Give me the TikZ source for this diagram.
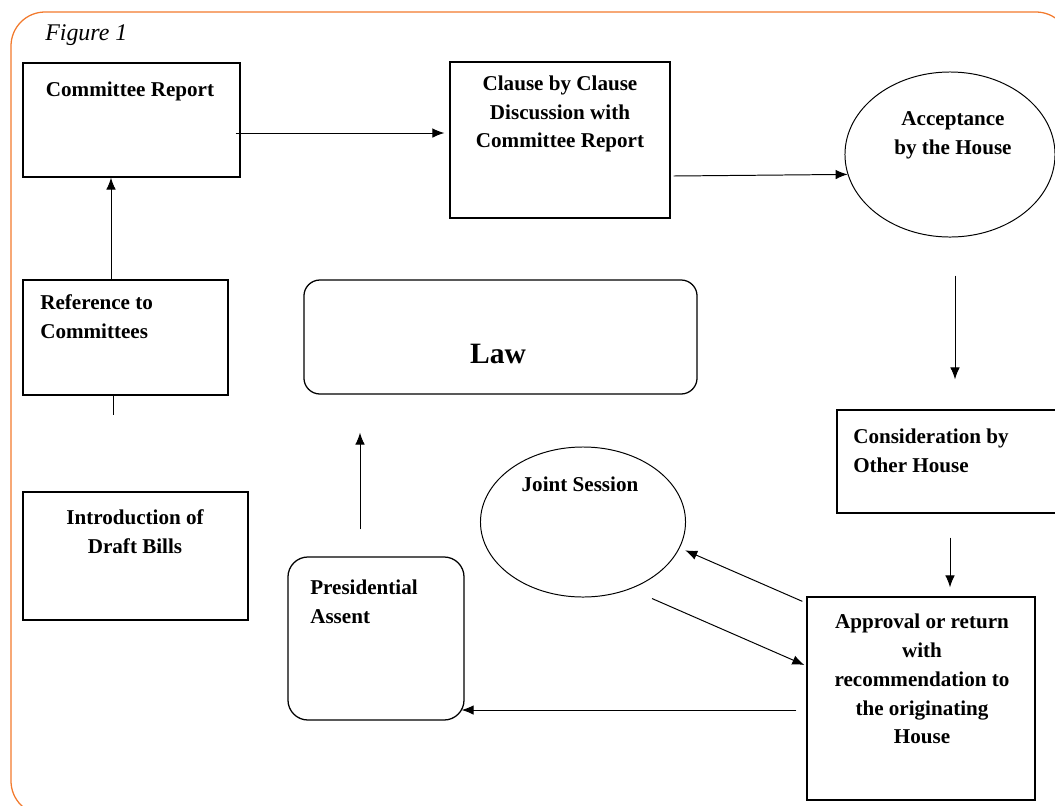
\documentclass[tikz,border=0pt]{standalone}
\usepackage{fontspec}
\setmainfont{Liberation Serif}
\usetikzlibrary{shapes.geometric,arrows.meta,calc}
\definecolor{frameorange}{RGB}{242,122,45}

\begin{document}
\begin{tikzpicture}[x=0.025cm,y=-0.025cm,>={Latex[length=3mm,width=2.4mm]},
  box/.style={draw,line width=0.9pt,inner sep=0pt},
  oval/.style={draw,ellipse,line width=0.7pt,inner sep=0pt},
  lbl/.style={font=\bfseries\fontsize{15}{20.5}\selectfont,align=center,inner sep=0pt},
  flow/.style={->,line width=0.7pt}]
	\useasboundingbox (0,0) rectangle (1055,805);
	\draw[frameorange,line width=0.9pt,rounded corners=0.85cm] (11,12) rectangle (1070,815);

	\node[font=\itshape\fontsize{17}{20}\selectfont,anchor=west,inner sep=0pt] (fig) at (45,35) {Figure 1};

            % boxes
            \node[box,minimum width=5.425cm,minimum height=2.85cm] (report) at (131.5,120) {};
            \node[box,minimum width=5.5cm,minimum height=3.9cm] (clause) at (560,140) {};
            \node[oval,minimum width=5.25cm,minimum height=4.125cm] (accept) at (950,154.5) {};
            \node[box,minimum width=5.7cm,minimum height=2.575cm] (consider) at (951,461.5) {};
            \node[box,minimum width=5.7cm,minimum height=5.075cm] (approval) at (921,698.5) {};
            \node[oval,minimum width=5.125cm,minimum height=3.75cm] (joint) at (583,522) {};
            \node[box,rounded corners=0.5cm,minimum width=4.4cm,minimum height=4.075cm] (pres) at (376,638.5) {};
            \node[box,rounded corners=0.4cm,minimum width=9.825cm,minimum height=2.85cm] (law) at (500.5,337) {};
            \node[box,minimum width=5.125cm,minimum height=2.875cm] (ref) at (125.5,337.5) {};
            \node[box,minimum width=5.625cm,minimum height=3.2cm] (intro) at (135.5,556) {};

            % texts
            \node[lbl] (reporttxt) at (130,91) {Committee Report};
            \node[lbl] (clausetxt) at (560,114) {Clause by Clause\\Discussion with\\Committee Report};
            \node[lbl] (accepttxt) at (953,135) {Acceptance\\by the House};
            \node[lbl,align=left,anchor=west] (considertxt) at (853,451) {Consideration by\\Other House};
            \node[lbl] (approvaltxt) at (922,679) {Approval or return\\with\\recommendation to\\the originating\\House};
            \node[lbl] (jointtxt) at (580,484) {Joint Session};
            \node[lbl,align=left,anchor=west] (prestxt) at (310,602) {Presidential\\Assent};
            \node[lbl,font=\bfseries\fontsize{21}{24}\selectfont] (lawtxt) at (498,354) {Law};
            \node[lbl,align=left,anchor=west] (reftxt) at (40,317) {Reference to\\Committees};
            \node[lbl] (introtxt) at (135,532) {Introduction of\\Draft Bills};

            % connectors
            \coordinate (stub) at (113,415);
            \draw[line width=0.7pt] (ref.south -| stub) -- (stub);
            \draw[flow] ($(ref.north)+(-14.5,0)$) -- ($(report.south)+(-20.5,0)$);
            \draw[flow] ($(report.east)+(-5,13)$) -- ($(clause.west)+(-5,-7)$);
            \draw[flow] ($(clause.east)+(3,36)$) -- (accept.191);
            \draw[flow] ($(accept.south)+(5,38)$) -- ($(consider.north)+(4,-30)$);
            \draw[flow] ($(consider.south)+(-1,24)$) -- ($(approval.north)+(29,-9)$);
            \draw[flow,shorten >=0.15cm] ($(approval.north west)+(-4,5)$) -- (joint.-15);
            \draw[flow] ($(joint.south)+(69,1)$) -- ($(approval.west)+(-2,-33.5)$);
            \draw[flow] ($(approval.west)+(-10,11.5)$) -- ($(pres.east)+(-3,71.5)$);
            \draw[flow] ($(pres.north)+(-16,-27)$) -- ($(law.south)+(-140.5,38)$);
\end{tikzpicture}
\end{document}
